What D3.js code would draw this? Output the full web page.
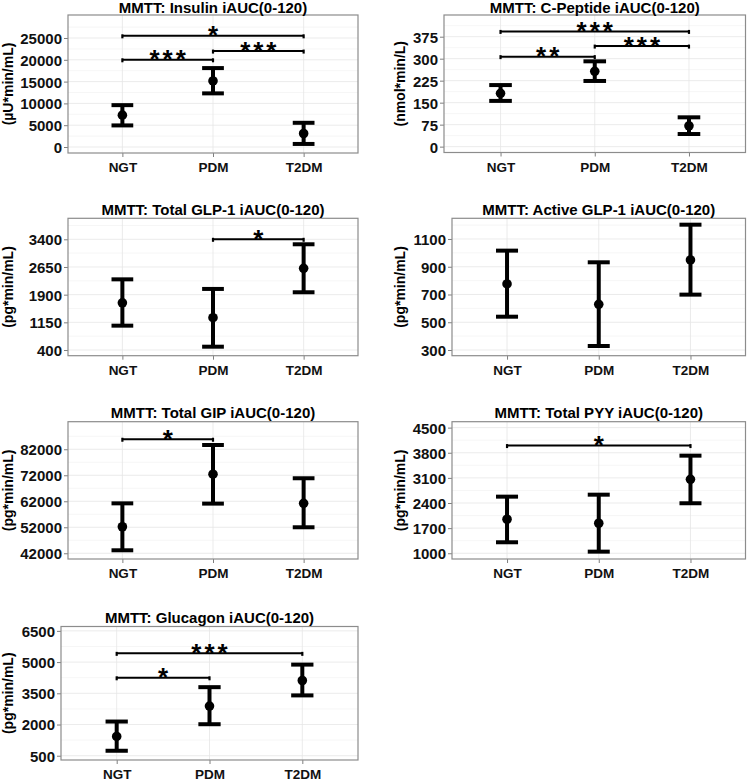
<!DOCTYPE html>
<html><head><meta charset="utf-8">
<script src="https://cdn.jsdelivr.net/npm/d3@7"></script>
<style>body{margin:0;background:#fff} svg{display:block}</style>
</head><body>
<svg id="chart" width="750" height="782"></svg>
<script>
// ---------------- DATA ----------------
const categories = ["NGT", "PDM", "T2DM"];

const panelTitles = [
  "MMTT: Insulin iAUC(0-120)",
  "MMTT: C-Peptide iAUC(0-120)",
  "MMTT: Total GLP-1 iAUC(0-120)",
  "MMTT: Active GLP-1 iAUC(0-120)",
  "MMTT: Total GIP iAUC(0-120)",
  "MMTT: Total PYY iAUC(0-120)",
  "MMTT: Glucagon iAUC(0-120)"
];
const yAxisTitles = [
  "(µU*min/mL)", "(nmol*min/L)", "(pg*min/mL)", "(pg*min/mL)",
  "(pg*min/mL)", "(pg*min/mL)", "(pg*min/mL)"
];

const insulinMean  = [7300, 15150, 3100];
const insulinLower = [4950, 12300, 700];
const insulinUpper = [9600, 18100, 5550];
const insulinTicks = [0, 5000, 10000, 15000, 20000, 25000];
const insulinSig = [
  {from: "NGT", to: "T2DM", y: 25500, label: "*"},
  {from: "NGT", to: "PDM", y: 20000, label: "***"},
  {from: "PDM", to: "T2DM", y: 22000, label: "***"}
];

const cpeptideMean  = [182, 257, 71];
const cpeptideLower = [156, 224, 43];
const cpeptideUpper = [210, 291, 100];
const cpeptideTicks = [0, 75, 150, 225, 300, 375];
const cpeptideSig = [
  {from: "NGT", to: "T2DM", y: 393, label: "***"},
  {from: "PDM", to: "T2DM", y: 343, label: "***"},
  {from: "NGT", to: "PDM", y: 307, label: "**"}
];

const totalGlp1Mean  = [1680, 1275, 2615];
const totalGlp1Lower = [1060, 490, 1965];
const totalGlp1Upper = [2315, 2055, 3265];
const totalGlp1Ticks = [400, 1150, 1900, 2650, 3400];
const totalGlp1Sig = [
  {from: "PDM", to: "T2DM", y: 3400, label: "*"}
];

const activeGlp1Mean  = [776, 629, 949];
const activeGlp1Lower = [540, 329, 699];
const activeGlp1Upper = [1016, 932, 1203];
const activeGlp1Ticks = [300, 500, 700, 900, 1100];
const activeGlp1Sig = [];

const gipMean  = [52200, 72400, 61200];
const gipLower = [43150, 61100, 52000];
const gipUpper = [61200, 83650, 70850];
const gipTicks = [42000, 52000, 62000, 72000, 82000];
const gipSig = [
  {from: "NGT", to: "PDM", y: 85850, label: "*"}
];

const pyyMean  = [1947, 1836, 3061];
const pyyLower = [1306, 1045, 2393];
const pyyUpper = [2577, 2632, 3719];
const pyyTicks = [1000, 1700, 2400, 3100, 3800, 4500];
const pyySig = [
  {from: "NGT", to: "T2DM", y: 4000, label: "*"}
];

const glucagonMean  = [1426, 2888, 4115];
const glucagonLower = [739, 2014, 3399];
const glucagonUpper = [2143, 3795, 4879];
const glucagonTicks = [500, 2000, 3500, 5000, 6500];
const glucagonSig = [
  {from: "NGT", to: "T2DM", y: 5420, label: "***"},
  {from: "NGT", to: "PDM", y: 4245, label: "*"}
];

const panelData = [
  {mean: insulinMean, lower: insulinLower, upper: insulinUpper, ticks: insulinTicks, sig: insulinSig},
  {mean: cpeptideMean, lower: cpeptideLower, upper: cpeptideUpper, ticks: cpeptideTicks, sig: cpeptideSig},
  {mean: totalGlp1Mean, lower: totalGlp1Lower, upper: totalGlp1Upper, ticks: totalGlp1Ticks, sig: totalGlp1Sig},
  {mean: activeGlp1Mean, lower: activeGlp1Lower, upper: activeGlp1Upper, ticks: activeGlp1Ticks, sig: activeGlp1Sig},
  {mean: gipMean, lower: gipLower, upper: gipUpper, ticks: gipTicks, sig: gipSig},
  {mean: pyyMean, lower: pyyLower, upper: pyyUpper, ticks: pyyTicks, sig: pyySig},
  {mean: glucagonMean, lower: glucagonLower, upper: glucagonUpper, ticks: glucagonTicks, sig: glucagonSig}
];

// ---------------- LAYOUT ----------------
const layout = [
  {left: 68,  right: 358,   top: 15,    bottom: 153,   domain: [-1376, 30275], titleX: 8},
  {left: 444, right: 745.5, top: 15,    bottom: 152.5, domain: [-20, 449],     titleX: 400},
  {left: 68,  right: 358,   top: 218.3, bottom: 355.7, domain: [246, 3969],    titleX: 8},
  {left: 452, right: 745.5, top: 218.3, bottom: 355.7, domain: [259, 1249],    titleX: 400},
  {left: 68,  right: 358,   top: 421.7, bottom: 559,   domain: [39800, 92600], titleX: 8},
  {left: 452, right: 745.5, top: 421.7, bottom: 559,   domain: [840, 4665],    titleX: 400},
  {left: 61,  right: 358,   top: 626.5, bottom: 760,   domain: [295, 6710],    titleX: 8}
];

const FONT = "'Liberation Sans', Arial, Helvetica, sans-serif";
const svg = d3.select("#chart");
svg.append("rect").attr("width", 750).attr("height", 782).attr("fill", "#fff");

panelData.forEach((p, i) => {
  const L = layout[i];
  const x = d3.scalePoint().domain(categories).range([L.left, L.right]).padding(0.6);
  const y = d3.scaleLinear().domain(L.domain).range([L.bottom, L.top]);
  const g = svg.append("g");

  g.append("rect").attr("x", L.left).attr("y", L.top)
    .attr("width", L.right - L.left).attr("height", L.bottom - L.top).attr("fill", "#fff");

  // minor grid
  const step = p.ticks[1] - p.ticks[0];
  const minor = [];
  for (let k = -1; k < p.ticks.length; k++) {
    const v = p.ticks[0] + (k + 0.5) * step;
    if (v > L.domain[0] && v < L.domain[1]) minor.push(v);
  }
  g.selectAll(".minor").data(minor).join("line")
    .attr("x1", L.left).attr("x2", L.right)
    .attr("y1", d => y(d)).attr("y2", d => y(d))
    .attr("stroke", "#f4f4f4").attr("stroke-width", 0.8);

  // major grid
  g.selectAll(".majorY").data(p.ticks).join("line")
    .attr("x1", L.left).attr("x2", L.right)
    .attr("y1", d => y(d)).attr("y2", d => y(d))
    .attr("stroke", "#e6e6e6").attr("stroke-width", 0.8);
  g.selectAll(".majorX").data(categories).join("line")
    .attr("x1", d => x(d)).attr("x2", d => x(d))
    .attr("y1", L.top).attr("y2", L.bottom)
    .attr("stroke", "#e6e6e6").attr("stroke-width", 0.8);

  // axes
  const yAxis = d3.axisLeft(y).tickValues(p.ticks).tickSize(4).tickPadding(2).tickFormat(d3.format("d"));
  const ya = g.append("g").attr("transform", `translate(${L.left},0)`).call(yAxis);
  const xAxis = d3.axisBottom(x).tickSize(4).tickPadding(3);
  const xa = g.append("g").attr("transform", `translate(0,${L.bottom})`).call(xAxis);
  [ya, xa].forEach(a => {
    a.select(".domain").remove();
    a.selectAll(".tick line").attr("stroke", "#7f7f7f").attr("stroke-width", 1);
    a.selectAll(".tick text").attr("fill", "#111")
      .style("font-family", FONT).style("font-weight", "bold");
  });
  ya.selectAll(".tick text").style("font-size", "15px").attr("dy", "0.36em");
  xa.selectAll(".tick text").style("font-size", "13.5px").attr("dy", "0.9em");

  // panel border
  g.append("rect").attr("x", L.left).attr("y", L.top)
    .attr("width", L.right - L.left).attr("height", L.bottom - L.top)
    .attr("fill", "none").attr("stroke", "#8c8c8c").attr("stroke-width", 1.2);

  // title
  g.append("text").attr("x", (L.left + L.right) / 2).attr("y", Math.max(L.top - 3.5, 12.5))
    .attr("text-anchor", "middle").style("font-family", FONT).style("font-weight", "bold")
    .style("font-size", "15px").attr("fill", "#000").text(panelTitles[i]);

  // y axis title
  g.append("text")
    .attr("transform", `translate(${L.titleX},${(L.top + L.bottom) / 2}) rotate(-90)`)
    .attr("dy", "0.36em").attr("text-anchor", "middle")
    .style("font-family", FONT).style("font-weight", "bold").style("font-size", "14px")
    .attr("fill", "#000").text(yAxisTitles[i]);

  // error bars
  const capHalf = x.step() * 0.12;
  const rows = categories.map((c, k) => ({c, mean: p.mean[k], lo: p.lower[k], hi: p.upper[k]}));
  g.selectAll(".ebv").data(rows).join("line")
    .attr("x1", d => x(d.c)).attr("x2", d => x(d.c))
    .attr("y1", d => y(d.lo)).attr("y2", d => y(d.hi))
    .attr("stroke", "#000").attr("stroke-width", 4);
  g.selectAll(".ebt").data(rows).join("line")
    .attr("x1", d => x(d.c) - capHalf).attr("x2", d => x(d.c) + capHalf)
    .attr("y1", d => y(d.hi)).attr("y2", d => y(d.hi))
    .attr("stroke", "#000").attr("stroke-width", 4);
  g.selectAll(".ebb").data(rows).join("line")
    .attr("x1", d => x(d.c) - capHalf).attr("x2", d => x(d.c) + capHalf)
    .attr("y1", d => y(d.lo)).attr("y2", d => y(d.lo))
    .attr("stroke", "#000").attr("stroke-width", 4);
  g.selectAll(".pt").data(rows).join("circle")
    .attr("cx", d => x(d.c)).attr("cy", d => y(d.mean)).attr("r", 4.8).attr("fill", "#000");

  // significance bars
  p.sig.forEach(s => {
    const x1 = x(s.from), x2 = x(s.to), yy = y(s.y);
    g.append("line").attr("x1", x1).attr("x2", x2).attr("y1", yy).attr("y2", yy)
      .attr("stroke", "#000").attr("stroke-width", 2);
    [x1, x2].forEach(xx => g.append("line").attr("x1", xx).attr("x2", xx)
      .attr("y1", yy - 1.5).attr("y2", yy + 2.5).attr("stroke", "#000").attr("stroke-width", 2.2));
    g.append("text").attr("x", (x1 + x2) / 2).attr("y", yy + 8.5).attr("dx", 1.5)
      .attr("text-anchor", "middle").style("font-family", FONT).style("font-size", "26px")
      .style("font-weight", "bold").style("letter-spacing", "3px")
      .attr("fill", "#000").text(s.label);
  });
});
</script>
</body></html>
